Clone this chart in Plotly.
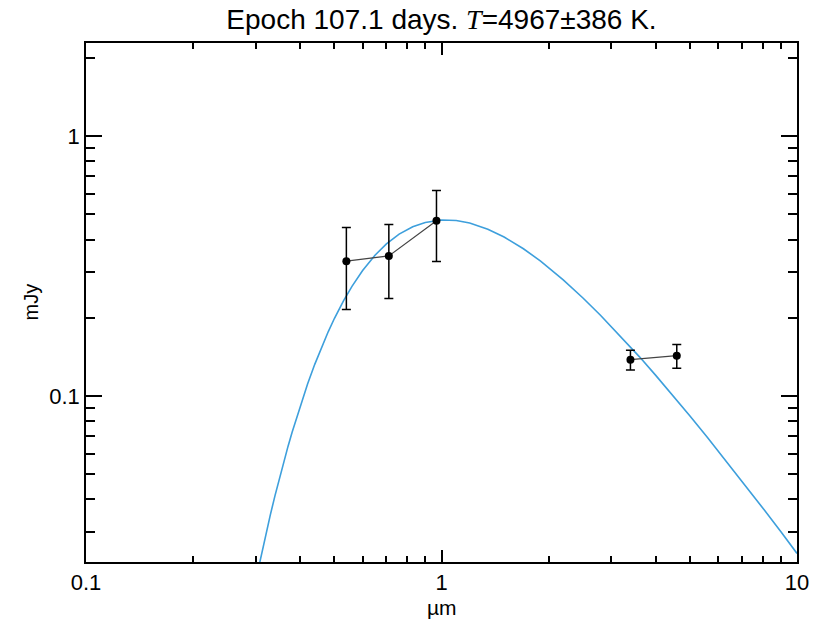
import plotly.graph_objects as go
import math

# Observed photometry
wavelength_um = [0.540, 0.711, 0.968, 3.40, 4.59]
flux_mjy = [0.330, 0.346, 0.472, 0.138, 0.143]
err_plus = [0.115, 0.111, 0.146, 0.012, 0.015]
err_minus = [0.115, 0.109, 0.143, 0.012, 0.015]
optical_idx = [0, 1, 2]
ir_idx = [3, 4]

# Blackbody curve
bb_wave = [0.305, 0.31, 0.32, 0.33, 0.34, 0.35, 0.36, 0.37, 0.38, 0.40, 0.42, 0.44,
           0.46, 0.48, 0.50, 0.53, 0.56, 0.60, 0.65, 0.70, 0.76, 0.83, 0.90, 1.0,
           1.1, 1.2, 1.35, 1.5, 1.7, 1.9, 2.2, 2.5, 2.8, 3.2, 3.6, 4.0, 4.5, 5.0,
           5.6, 6.3, 7.0, 8.0, 9.0, 10.0]
bb_flux = [0.0215, 0.0239, 0.0291, 0.0349, 0.0413, 0.0483, 0.0559, 0.0640, 0.0726,
           0.0911, 0.1112, 0.1324, 0.1543, 0.1766, 0.1991, 0.2324, 0.2642, 0.3040,
           0.3479, 0.3848, 0.4194, 0.4479, 0.4654, 0.4756, 0.4733, 0.4628, 0.4383,
           0.4090, 0.3686, 0.3303, 0.2799, 0.2383, 0.2045, 0.1690, 0.1418, 0.1203,
           0.0997, 0.0838, 0.0693, 0.0566, 0.0471, 0.0372, 0.0301, 0.0248]

x_ticks = [0.1, 1, 10]
x_ticktext = ["0.1", "1", "10"]
x_minor = [0.2, 0.3, 0.4, 0.5, 0.6, 0.7, 0.8, 0.9, 2, 3, 4, 5, 6, 7, 8, 9]
y_ticks = [0.1, 1]
y_ticktext = ["0.1", "1"]
y_minor = [0.03, 0.04, 0.05, 0.06, 0.07, 0.08, 0.09, 0.2, 0.3, 0.4, 0.5, 0.6, 0.7, 0.8, 0.9, 2]

title_text = "Epoch 107.1 days. <i><span style=\"font-family:'Liberation Serif'\">T</span></i>=4967±386 K."
x_label = "µm"
y_label = "mJy"

fig = go.Figure()

fig.add_trace(go.Scatter(x=bb_wave, y=bb_flux, mode="lines",
                         line=dict(color="#3d9fdc", width=1.6),
                         showlegend=False, hoverinfo="skip"))

for idx in (optical_idx, ir_idx):
    fig.add_trace(go.Scatter(
        x=[wavelength_um[i] for i in idx],
        y=[flux_mjy[i] for i in idx],
        mode="lines+markers",
        line=dict(color="#444444", width=1.2),
        marker=dict(color="black", size=8),
        error_y=dict(type="data", symmetric=False,
                     array=[err_plus[i] for i in idx],
                     arrayminus=[err_minus[i] for i in idx],
                     color="black", thickness=1.5, width=4.5),
        showlegend=False))

font = "Liberation Sans, Arial, sans-serif"
fig.update_layout(
    width=813, height=620,
    margin=dict(l=86, r=16, t=43, b=58),
    paper_bgcolor="white", plot_bgcolor="white",
    font=dict(family=font, size=22, color="black"),
    title=dict(text=title_text, x=0.5, xref="paper", y=1 - 19 / 620, yref="container",
               yanchor="middle", xanchor="center", font=dict(size=28, family=font)),
    xaxis=dict(type="log", range=[-1, 1], showgrid=False, zeroline=False,
               showline=True, linecolor="black", linewidth=1.5, mirror="ticks",
               ticks="inside", ticklen=12, tickwidth=1.5, tickcolor="black",
               tickmode="array", tickvals=x_ticks, ticktext=x_ticktext,
               minor=dict(ticks="inside", ticklen=6, tickwidth=1.5, tickcolor="black",
                          tickmode="array", tickvals=x_minor, showgrid=False),
               tickfont=dict(size=22), automargin=False),
    yaxis=dict(type="log", range=[math.log10(0.02299), math.log10(2.28)], showgrid=False,
               zeroline=False, showline=True, linecolor="black", linewidth=1.5, mirror="ticks",
               ticks="inside", ticklen=16, tickwidth=1.5, tickcolor="black",
               tickmode="array", tickvals=y_ticks, ticktext=y_ticktext,
               minor=dict(ticks="inside", ticklen=9, tickwidth=1.5, tickcolor="black",
                          tickmode="array", tickvals=y_minor, showgrid=False),
               tickfont=dict(size=22), automargin=False),
    annotations=[
        dict(text=x_label, xref="paper", yref="paper", x=0.5, y=-(607 - 562) / 519,
             showarrow=False, font=dict(size=21), xanchor="center", yanchor="middle"),
        dict(text=y_label, xref="paper", yref="paper", x=-(86 - 30) / 711, y=0.5,
             showarrow=False, textangle=-90, font=dict(size=20), xanchor="center",
             yanchor="middle"),
    ],
)

fig.write_html("out.html", config={"displayModeBar": False},
               post_script="document.body.style.margin='0px';")
